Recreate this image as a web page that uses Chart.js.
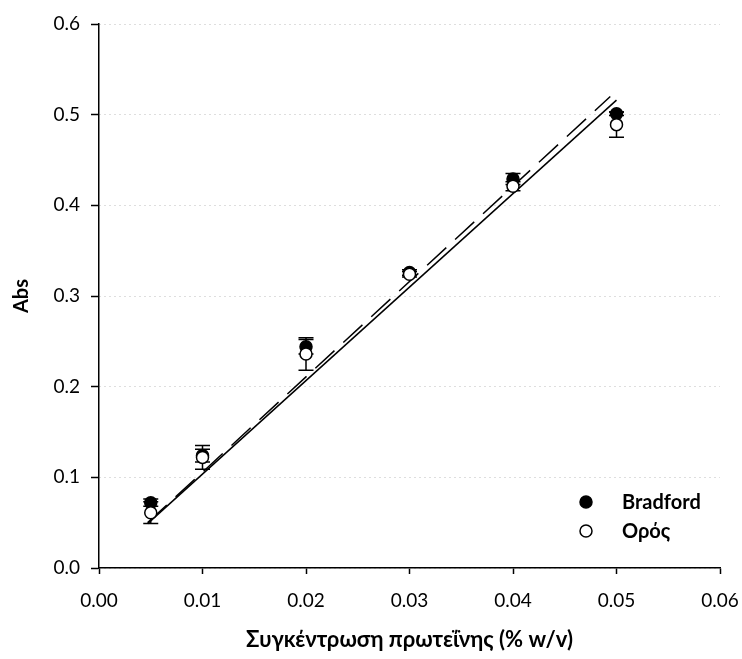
<!DOCTYPE html>
<html>
<head>
<meta charset="utf-8">
<script src="https://cdn.jsdelivr.net/npm/chart.js@4.4.1/dist/chart.umd.min.js"></script>
<style>
  html, body { margin: 0; padding: 0; background: #fff; }
</style>
</head>
<body>
<canvas id="absChart" width="742" height="659"></canvas>
<script>
// protein concentration (% w/v)
var conc = [0.005, 0.01, 0.02, 0.03, 0.04, 0.05]

// mean absorbance and standard deviation for each standard
var bradford = [0.072, 0.124, 0.244, 0.326, 0.429, 0.501]
var bradfordErr = [0.004, 0.007, 0.008, 0.003, 0.006, 0.002]
var oros = [0.061, 0.122, 0.236, 0.324, 0.421, 0.489]
var orosErr = [0.012, 0.013, 0.018, 0.003, 0.005, 0.014]

// end points of the two calibration lines
var fitSolidX = [0.0047, 0.0500]
var fitSolidY = [0.049, 0.516]
var fitDashX = [0.0047, 0.0494]
var fitDashY = [0.050, 0.520]

var xTicks = [0, 0.01, 0.02, 0.03, 0.04, 0.05, 0.06]
var yTicks = [0, 0.1, 0.2, 0.3, 0.4, 0.5, 0.6]

var seriesNames = ["Bradford", "Ορός"]
var xTitle = "Συγκέντρωση πρωτεΐνης (% w/v)"
var yTitle = "Abs"

var FONT = "Lato, 'Liberation Sans', sans-serif"

function toPoints(xs, ys){
    var pts = []
    for (var i = 0; i < xs.length; i++){
        pts.push({x: xs[i], y: ys[i]})
    }
    return pts
}

// vertical error bars with caps, drawn under the markers
var errorBars = {
    id: 'errorBars',
    beforeDatasetsDraw: function(chart){
        var ctx = chart.ctx
        var xs = chart.scales.x
        var ys = chart.scales.y
        var cap = 7.5
        ctx.save()
        ctx.strokeStyle = '#000'
        ctx.lineWidth = 1.5
        chart.data.datasets.forEach(function(ds){
            if (!ds.errors) return
            ds.data.forEach(function(p, i){
                var px = xs.getPixelForValue(p.x)
                var top = ys.getPixelForValue(p.y + ds.errors[i])
                var bot = ys.getPixelForValue(p.y - ds.errors[i])
                ctx.beginPath()
                ctx.moveTo(px, top)
                ctx.lineTo(px, bot)
                ctx.moveTo(px - cap, top)
                ctx.lineTo(px + cap, top)
                ctx.moveTo(px - cap, bot)
                ctx.lineTo(px + cap, bot)
                ctx.stroke()
            })
        })
        ctx.restore()
    }
}

// small legend in the lower right corner of the plot
var cornerLegend = {
    id: 'cornerLegend',
    afterDraw: function(chart){
        var ctx = chart.ctx
        var area = chart.chartArea
        var markerX = area.right - 134
        var textX = area.right - 98
        var rows = [area.bottom - 66, area.bottom - 37]
        ctx.save()
        ctx.font = "bold 20px " + FONT
        ctx.textBaseline = 'middle'
        ctx.fillStyle = '#000'
        for (var i = 0; i < 2; i++){
            var ds = chart.data.datasets[i]
            ctx.beginPath()
            ctx.arc(markerX, rows[i], 6, 0, Math.PI * 2)
            ctx.fillStyle = ds.backgroundColor
            ctx.fill()
            ctx.lineWidth = ds.borderWidth
            ctx.strokeStyle = ds.borderColor
            ctx.stroke()
            ctx.fillStyle = '#000'
            ctx.fillText(ds.label, textX, rows[i] + 1)
        }
        ctx.restore()
    }
}

var ctx = document.getElementById('absChart').getContext('2d')
var absChart = new Chart(ctx, {
    type: 'scatter',
    data: {
        datasets: [{
            label: seriesNames[0],
            data: toPoints(conc, bradford),
            errors: bradfordErr,
            backgroundColor: '#000',
            borderColor: '#000',
            borderWidth: 1.5,
            pointRadius: 6,
            order: 1
        }, {
            label: seriesNames[1],
            data: toPoints(conc, oros),
            errors: orosErr,
            backgroundColor: '#fff',
            borderColor: '#000',
            borderWidth: 1.5,
            pointRadius: 6,
            order: 0
        }, {
            label: 'fit solid',
            data: toPoints(fitSolidX, fitSolidY),
            showLine: true,
            borderColor: '#000',
            borderWidth: 1.5,
            pointRadius: 0,
            order: 2
        }, {
            label: 'fit dashed',
            data: toPoints(fitDashX, fitDashY),
            showLine: true,
            borderColor: '#000',
            borderWidth: 1.5,
            borderDash: [26, 12],
            pointRadius: 0,
            order: 3
        }]
    },
    options: {
        responsive: false,
        animation: false,
        layout: {padding: {top: 24, right: 22, left: 0, bottom: 0}},
        plugins: {
            legend: {display: false},
            tooltip: {enabled: false}
        },
        scales: {
            x: {
                type: 'linear',
                min: xTicks[0],
                max: xTicks[xTicks.length - 1],
                afterBuildTicks: function(scale){
                    scale.ticks = xTicks.map(function(v){ return {value: v} })
                },
                afterFit: function(scale){
                    scale.height = 91
                    scale.paddingLeft = 0
                    scale.paddingRight = 0
                },
                ticks: {
                    color: '#000',
                    padding: 15,
                    maxRotation: 0,
                    font: {family: FONT, size: 19},
                    callback: function(v){ return Number(v).toFixed(2) }
                },
                grid: {drawOnChartArea: false, tickLength: 6, tickColor: '#000', tickWidth: 1.5},
                border: {color: '#000', width: 1.5},
                title: {
                    display: true,
                    text: xTitle,
                    color: '#000',
                    font: {family: FONT, size: 22, weight: 'bold'},
                    padding: {top: 0, bottom: 6}
                }
            },
            y: {
                type: 'linear',
                min: yTicks[0],
                max: yTicks[yTicks.length - 1],
                afterBuildTicks: function(scale){
                    scale.ticks = yTicks.map(function(v){ return {value: v} })
                },
                afterFit: function(scale){
                    scale.width = 99
                    scale.paddingTop = 0
                    scale.paddingBottom = 0
                },
                ticks: {
                    color: '#000',
                    padding: 11,
                    font: {family: FONT, size: 19},
                    callback: function(v){ return Number(v).toFixed(1) }
                },
                grid: {color: '#bdbdbd', lineWidth: 1, tickLength: 8, tickColor: '#000', tickWidth: 1.5},
                border: {color: '#000', width: 1.5, dash: [1, 4]},
                title: {
                    display: true,
                    text: yTitle,
                    color: '#000',
                    font: {family: FONT, size: 20, weight: 'bold'},
                    padding: {top: 10, bottom: 0}
                }
            }
        }
    },
    plugins: [errorBars, cornerLegend]
})
</script>
</body>
</html>
